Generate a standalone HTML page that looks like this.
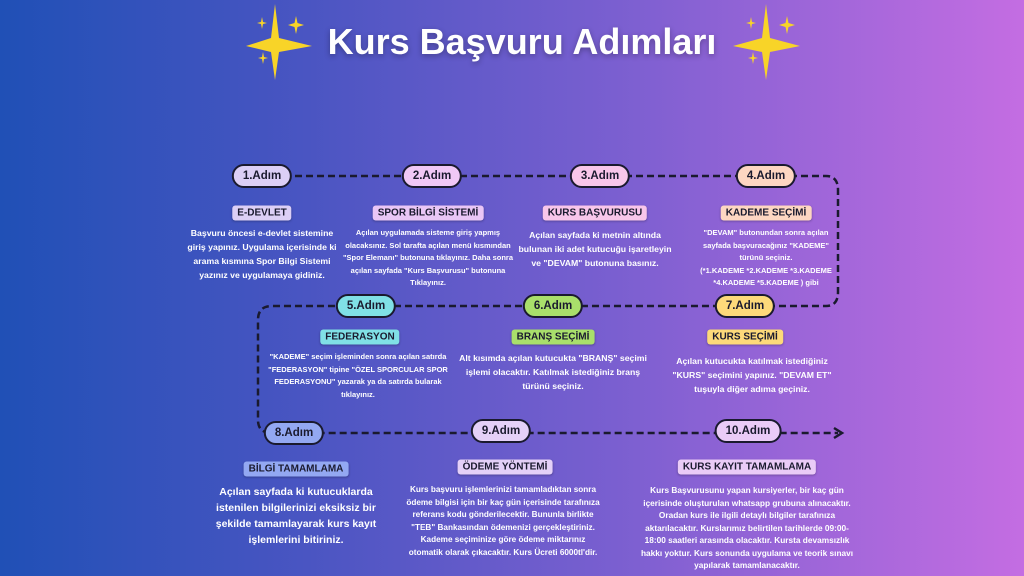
<!DOCTYPE html>
<html><head><meta charset="utf-8"><style>
*{margin:0;padding:0;box-sizing:border-box}
body{width:1024px;height:576px;overflow:hidden;font-family:"Liberation Sans",sans-serif;background:linear-gradient(90deg,#2050b6 0%,#4a55c2 30%,#7a5fd0 60%,#c46de2 100%);position:relative;color:#fff}
.t{position:absolute;left:522px;top:21px;transform:translateX(-50%);font-size:36px;font-weight:bold;white-space:nowrap;text-shadow:0 2px 6px rgba(0,0,0,.3)}
.p{position:absolute;transform:translate(-50%,-50%);height:24px;padding:0 9px;border:2px solid #1a1a2e;border-radius:12px;color:#1a1a2e;font-weight:bold;font-size:11.5px;line-height:20px;white-space:nowrap}
.l{position:absolute;transform:translate(-50%,-50%);padding:2px 5px;border-radius:3px;color:#1a1a2e;font-weight:bold;font-size:10px;white-space:nowrap;box-shadow:0 1px 2px rgba(0,0,0,.25)}
.d{position:absolute;transform:translateX(-50%);text-align:center;font-weight:bold;white-space:nowrap}
.s{font-size:7.5px;line-height:12.5px}.m{font-size:8.7px;line-height:14px}.b{font-size:10.5px;line-height:16px}
</style></head><body>
<svg width="1024" height="576" style="position:absolute;left:0;top:0">
<g fill="#f8d428">
<path d="M275 4 L279 38 L312 46 L279 52 L275 80 L271 52 L246 46 L271 38Z"/>
<path d="M766 4 L770 38 L800 46 L770 52 L766 80 L762 52 L733 46 L762 38Z"/>
<path d="M296 16 L297.5 23 L304 25 L297.5 27 L296 34 L294.5 27 L288 25 L294.5 23Z"/>
<path d="M262 17 L263 22 L267 23 L263 24 L262 29 L261 24 L257 23 L261 22Z"/>
<path d="M263 52 L264 57 L268 58 L264 59 L263 64 L262 59 L258 58 L262 57Z"/>
<path d="M787 16 L788.5 23 L795 25 L788.5 27 L787 34 L785.5 27 L779 25 L785.5 23Z"/>
<path d="M751 17 L752 22 L756 23 L752 24 L751 29 L750 24 L746 23 L750 22Z"/>
<path d="M753 52 L754 57 L758 58 L754 59 L753 64 L752 59 L748 58 L752 57Z"/>
</g>
<path d="M262 176 H826 Q838 176 838 190 V292 Q838 306 826 306 H272 Q258 306 258 320 V420 Q258 433 272 433 H838" fill="none" stroke="#1a1a2e" stroke-width="2.5" stroke-dasharray="7 4"/>
<path d="M834 428 L842 433 L834 438" fill="none" stroke="#1a1a2e" stroke-width="2.5"/>
</svg>
<div class="t">Kurs Başvuru Adımları</div>

<div class="p" style="left:262px;top:176px;background:#dccff6">1.Adım</div>
<div class="p" style="left:432px;top:176px;background:#f0c8f6">2.Adım</div>
<div class="p" style="left:600px;top:176px;background:#f8c6ea">3.Adım</div>
<div class="p" style="left:766px;top:176px;background:#fdd6c2">4.Adım</div>
<div class="p" style="left:366px;top:306px;background:#80e0e6">5.Adım</div>
<div class="p" style="left:553px;top:306px;background:#a9df6b">6.Adım</div>
<div class="p" style="left:745px;top:306px;background:#fdd97a">7.Adım</div>
<div class="p" style="left:294px;top:433px;background:#93a8f2">8.Adım</div>
<div class="p" style="left:501px;top:431px;background:#e4d0f8">9.Adım</div>
<div class="p" style="left:748px;top:431px;background:#eacbf7">10.Adım</div>

<div class="l" style="left:262px;top:213px;background:#dccff6">E-DEVLET</div>
<div class="l" style="left:428px;top:213px;background:#e9c6f6">SPOR BİLGİ SİSTEMİ</div>
<div class="l" style="left:595px;top:213px;background:#f8c6ea">KURS BAŞVURUSU</div>
<div class="l" style="left:766px;top:213px;background:#fdd6c2">KADEME SEÇİMİ</div>
<div class="l" style="left:360px;top:337px;background:#80e0e6">FEDERASYON</div>
<div class="l" style="left:553px;top:337px;background:#a9df6b">BRANŞ SEÇİMİ</div>
<div class="l" style="left:745px;top:337px;background:#fdd97a">KURS SEÇİMİ</div>
<div class="l" style="left:296px;top:469px;background:#93a8f2">BİLGİ TAMAMLAMA</div>
<div class="l" style="left:505px;top:467px;background:#e4d0f8">ÖDEME YÖNTEMİ</div>
<div class="l" style="left:747px;top:467px;background:#eacbf7">KURS KAYIT TAMAMLAMA</div>

<div class="d m" style="left:262px;top:226px">Başvuru öncesi e-devlet sistemine<br>giriş yapınız. Uygulama içerisinde ki<br>arama kısmına Spor Bilgi Sistemi<br>yazınız ve uygulamaya gidiniz.</div>
<div class="d s" style="left:428px;top:227px">Açılan uygulamada sisteme giriş yapmış<br>olacaksınız. Sol tarafta açılan menü kısmından<br>"Spor Elemanı" butonuna tıklayınız. Daha sonra<br>açılan sayfada "Kurs Başvurusu" butonuna<br>Tıklayınız.</div>
<div class="d m" style="left:595px;top:228px">Açılan sayfada ki metnin altında<br>bulunan iki adet kutucuğu işaretleyin<br>ve "DEVAM" butonuna basınız.</div>
<div class="d s" style="left:766px;top:227px">"DEVAM" butonundan sonra açılan<br>sayfada başvuracağınız "KADEME"<br>türünü seçiniz.<br>(*1.KADEME *2.KADEME *3.KADEME<br>*4.KADEME *5.KADEME ) gibi</div>
<div class="d s" style="left:358px;top:351px">"KADEME" seçim işleminden sonra açılan satırda<br>"FEDERASYON" tipine "ÖZEL SPORCULAR SPOR<br>FEDERASYONU" yazarak ya da satırda bularak<br>tıklayınız.</div>
<div class="d m" style="left:553px;top:351px">Alt kısımda açılan kutucukta "BRANŞ" seçimi<br>işlemi olacaktır. Katılmak istediğiniz branş<br>türünü seçiniz.</div>
<div class="d m" style="left:752px;top:354px">Açılan kutucukta katılmak istediğiniz<br>"KURS" seçimini yapınız. "DEVAM ET"<br>tuşuyla diğer adıma geçiniz.</div>
<div class="d b" style="left:296px;top:484px">Açılan sayfada ki kutucuklarda<br>istenilen bilgilerinizi eksiksiz bir<br>şekilde tamamlayarak kurs kayıt<br>işlemlerini bitiriniz.</div>
<div class="d s" style="left:503px;top:484px;font-size:8.2px">Kurs başvuru işlemlerinizi tamamladıktan sonra<br>ödeme bilgisi için bir kaç gün içerisinde tarafınıza<br>referans kodu gönderilecektir. Bununla birlikte<br>"TEB" Bankasından ödemenizi gerçekleştiriniz.<br>Kademe seçiminize göre ödeme miktarınız<br>otomatik olarak çıkacaktır. Kurs Ücreti 6000tl'dir.</div>
<div class="d s" style="left:747px;top:484px;font-size:8.3px">Kurs Başvurusunu yapan kursiyerler, bir kaç gün<br>içerisinde oluşturulan whatsapp grubuna alınacaktır.<br>Oradan kurs ile ilgili detaylı bilgiler tarafınıza<br>aktarılacaktır. Kurslarımız belirtilen tarihlerde 09:00-<br>18:00 saatleri arasında olacaktır. Kursta devamsızlık<br>hakkı yoktur. Kurs sonunda uygulama ve teorik sınavı<br>yapılarak tamamlanacaktır.</div>
</body></html>
